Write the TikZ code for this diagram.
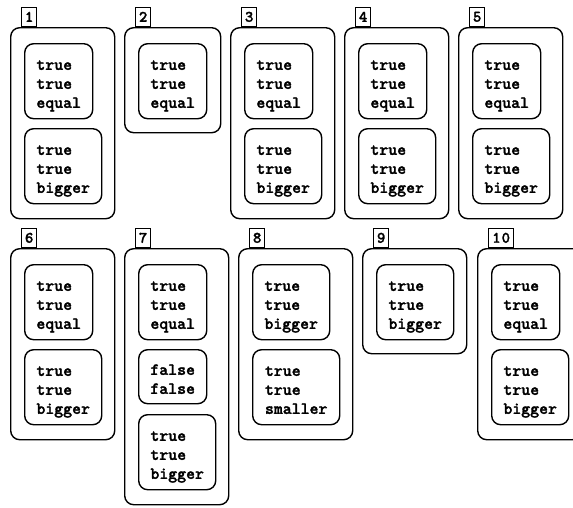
\documentclass[tikz,border=0pt]{standalone}
\usepackage{fontspec}
\newfontfamily\cellfont{lmmonolt10-bold.otf}[FakeBold=1.6]
% three-line (or two-line) cell text, pushed a little down from the box centre
\newcommand\cellstack[1]{\begin{tabular}{@{}l@{}}\rule{0pt}{21pt}#1\end{tabular}}
\begin{document}
\begin{tikzpicture}[x=1pt,y=-1pt,
  panel/.style={draw, line width=1.4pt, rounded corners=9pt, anchor=north west, inner sep=0pt},
  pw/.style={minimum width=#1},
  ph/.style={minimum height=#1},
  tag/.style={draw, line width=1.3pt, anchor=south west, inner sep=0pt,
    minimum height=19pt, minimum width=15pt,
    font=\fontsize{16}{16}\selectfont\cellfont},
  cell/.style={draw, line width=1.4pt, rounded corners=9pt, anchor=north west,
    inner sep=0pt, font=\fontsize{17}{19}\selectfont\cellfont},
  three/.style={minimum height=75pt},
  two/.style={minimum height=54pt},
  w5/.style={minimum width=68pt},
  w6/.style={minimum width=77pt},
  w7/.style={minimum width=87pt}
]
\useasboundingbox (0,0) rectangle (573,507);
\clip (0,0) rectangle (573,507);

% ---------- first row ----------
\node[panel, pw=104pt, ph=191pt] (p1) at (10,27) {};
\node[tag] (t1) at (21,27) {1};
\node[cell, three, w5] (p1a) at (24,43) {\cellstack{true\\true\\equal}};
\node[cell, three, w6] (p1b) at (24,128) {\cellstack{true\\true\\bigger}};

\node[panel, pw=96pt, ph=105pt] (p2) at (124,27) {};
\node[tag] (t2) at (135,27) {2};
\node[cell, three, w5] (p2a) at (138,43) {\cellstack{true\\true\\equal}};

\node[panel, pw=104pt, ph=191pt] (p3) at (230,27) {};
\node[tag] (t3) at (241,27) {3};
\node[cell, three, w5] (p3a) at (244,43) {\cellstack{true\\true\\equal}};
\node[cell, three, w6] (p3b) at (244,128) {\cellstack{true\\true\\bigger}};

\node[panel, pw=104pt, ph=191pt] (p4) at (344,27) {};
\node[tag] (t4) at (355,27) {4};
\node[cell, three, w5] (p4a) at (358,43) {\cellstack{true\\true\\equal}};
\node[cell, three, w6] (p4b) at (358,128) {\cellstack{true\\true\\bigger}};

\node[panel, pw=104pt, ph=191pt] (p5) at (458,27) {};
\node[tag] (t5) at (469,27) {5};
\node[cell, three, w5] (p5a) at (472,43) {\cellstack{true\\true\\equal}};
\node[cell, three, w6] (p5b) at (472,128) {\cellstack{true\\true\\bigger}};

% ---------- second row ----------
\node[panel, pw=104pt, ph=191pt] (p6) at (10,248) {};
\node[tag] (t6) at (21,248) {6};
\node[cell, three, w5] (p6a) at (24,264) {\cellstack{true\\true\\equal}};
\node[cell, three, w6] (p6b) at (24,349) {\cellstack{true\\true\\bigger}};

\node[panel, pw=104pt, ph=256pt] (p7) at (124,248) {};
\node[tag] (t7) at (135,248) {7};
\node[cell, three, w5] (p7a) at (138,264) {\cellstack{true\\true\\equal}};
\node[cell, two, w5] (p7b) at (138,349) {\cellstack{false\\false}};
\node[cell, three, w6] (p7c) at (138,414) {\cellstack{true\\true\\bigger}};

\node[panel, pw=114pt, ph=191pt] (p8) at (238,248) {};
\node[tag] (t8) at (249,248) {8};
\node[cell, three, w6] (p8a) at (252,264) {\cellstack{true\\true\\bigger}};
\node[cell, three, w7] (p8b) at (252,349) {\cellstack{true\\true\\smaller}};

\node[panel, pw=104pt, ph=105pt] (p9) at (362,248) {};
\node[tag] (t9) at (373,248) {9};
\node[cell, three, w6] (p9a) at (376,264) {\cellstack{true\\true\\bigger}};

\node[panel, pw=104pt, ph=191pt] (p10) at (477,248) {};
\node[tag, minimum width=25pt] (t10) at (488,248) {1\hspace{1pt}0};
\node[cell, three, w5] (p10a) at (491,264) {\cellstack{true\\true\\equal}};
\node[cell, three, w6] (p10b) at (491,349) {\cellstack{true\\true\\bigger}};
\end{tikzpicture}
\end{document}
